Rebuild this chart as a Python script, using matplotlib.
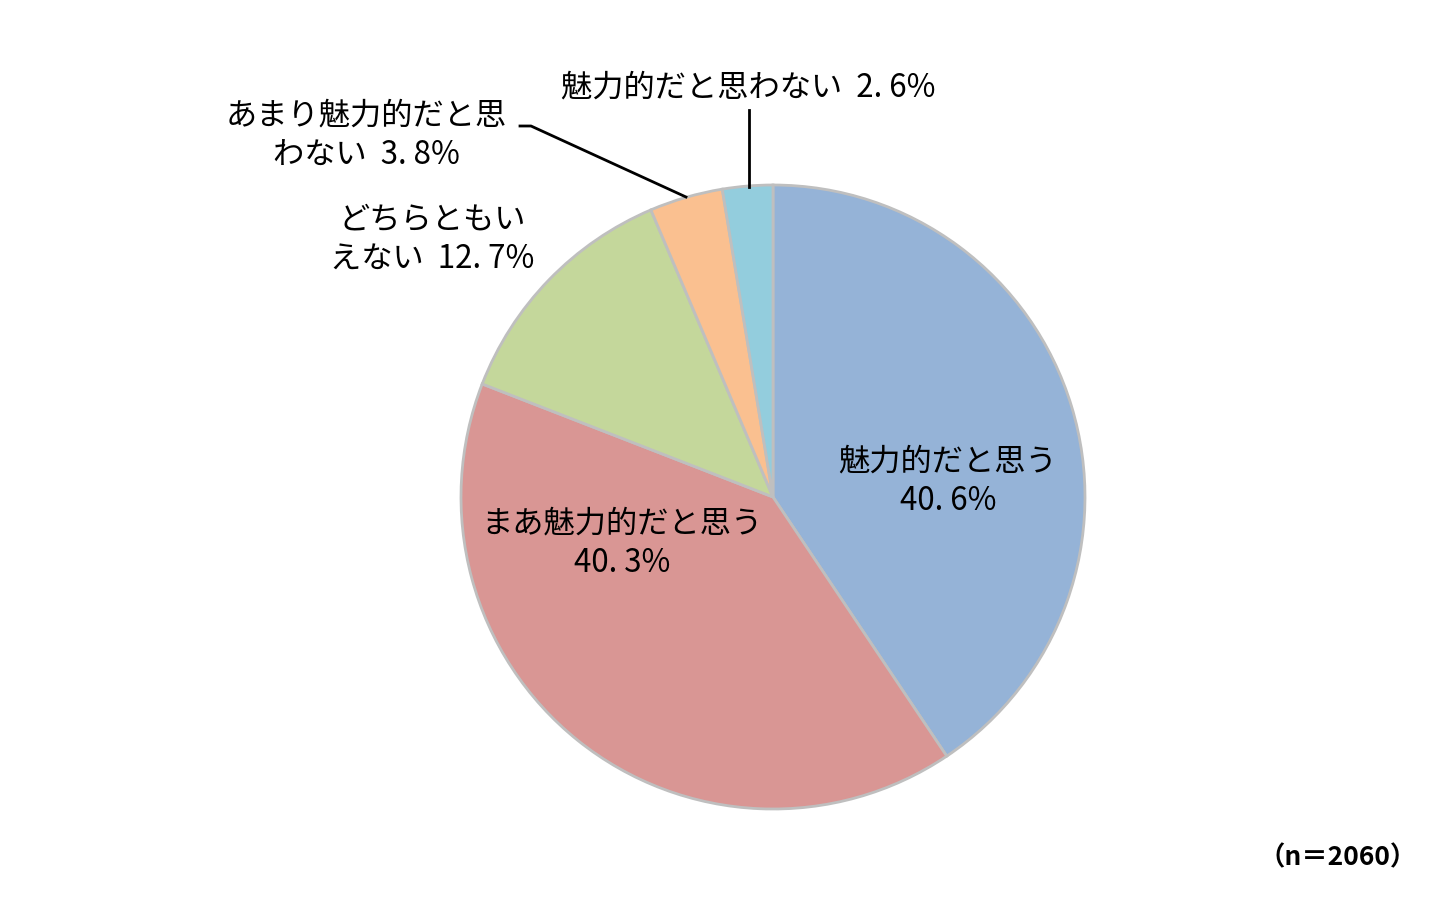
import matplotlib
matplotlib.use("Agg")
import matplotlib.pyplot as plt

plt.rcParams['font.family'] = ['Noto Sans CJK JP', 'DejaVu Sans']

# 回答の内訳（%）
categories = ['魅力的だと思う', 'まあ魅力的だと思う', 'どちらともいえない',
              'あまり魅力的だと思わない', '魅力的だと思わない']
values = [40.6, 40.3, 12.7, 3.8, 2.6]
colors = ['#95B3D7', '#D99694', '#C4D79B', '#FAC090', '#93CDDD']
label_texts = ['魅力的だと思う\n40. 6%', 'まあ魅力的だと思う\n40. 3%',
               'どちらともい\nえない  12. 7%', 'あまり魅力的だと思\nわない  3. 8%',
               '魅力的だと思わない  2. 6%']
n_total = 2060

W, H = 1452, 905
fig = plt.figure(figsize=(W / 100, H / 100), dpi=100)
ax = fig.add_axes([0, 0, 1, 1])

cx, cy, r = 773, H - 497, 312
wedges, _ = ax.pie(values, colors=colors, startangle=90, counterclock=False,
                   center=(cx, cy), radius=r, frame=True,
                   wedgeprops=dict(edgecolor='#BFBFBF', linewidth=2))
ax.set_xlim(0, W)
ax.set_ylim(0, H)
ax.set_aspect('equal')
ax.axis('off')

fs = 22.5
kw = dict(ha='center', va='center', fontsize=fs, linespacing=1.3, color='#000000')
ax.text(948, H - 481, label_texts[0], **kw)
ax.text(622, H - 543, label_texts[1], **kw)
ax.text(432, H - 240, label_texts[2], **kw)
ax.text(366, H - 135, label_texts[3], **kw)
ax.text(748, H - 88, label_texts[4], **kw)

# 引き出し線
ax.plot([749, 749], [H - 110, H - 187], color='black', lw=2)
ax.plot([520, 531, 686], [H - 126, H - 126, H - 197], color='black', lw=2)

ax.text(1338, H - 858, '（n＝%d）' % n_total, ha='center', va='center',
        fontsize=19, fontweight='bold')

fig.savefig('out.png', dpi=100, facecolor='white')
